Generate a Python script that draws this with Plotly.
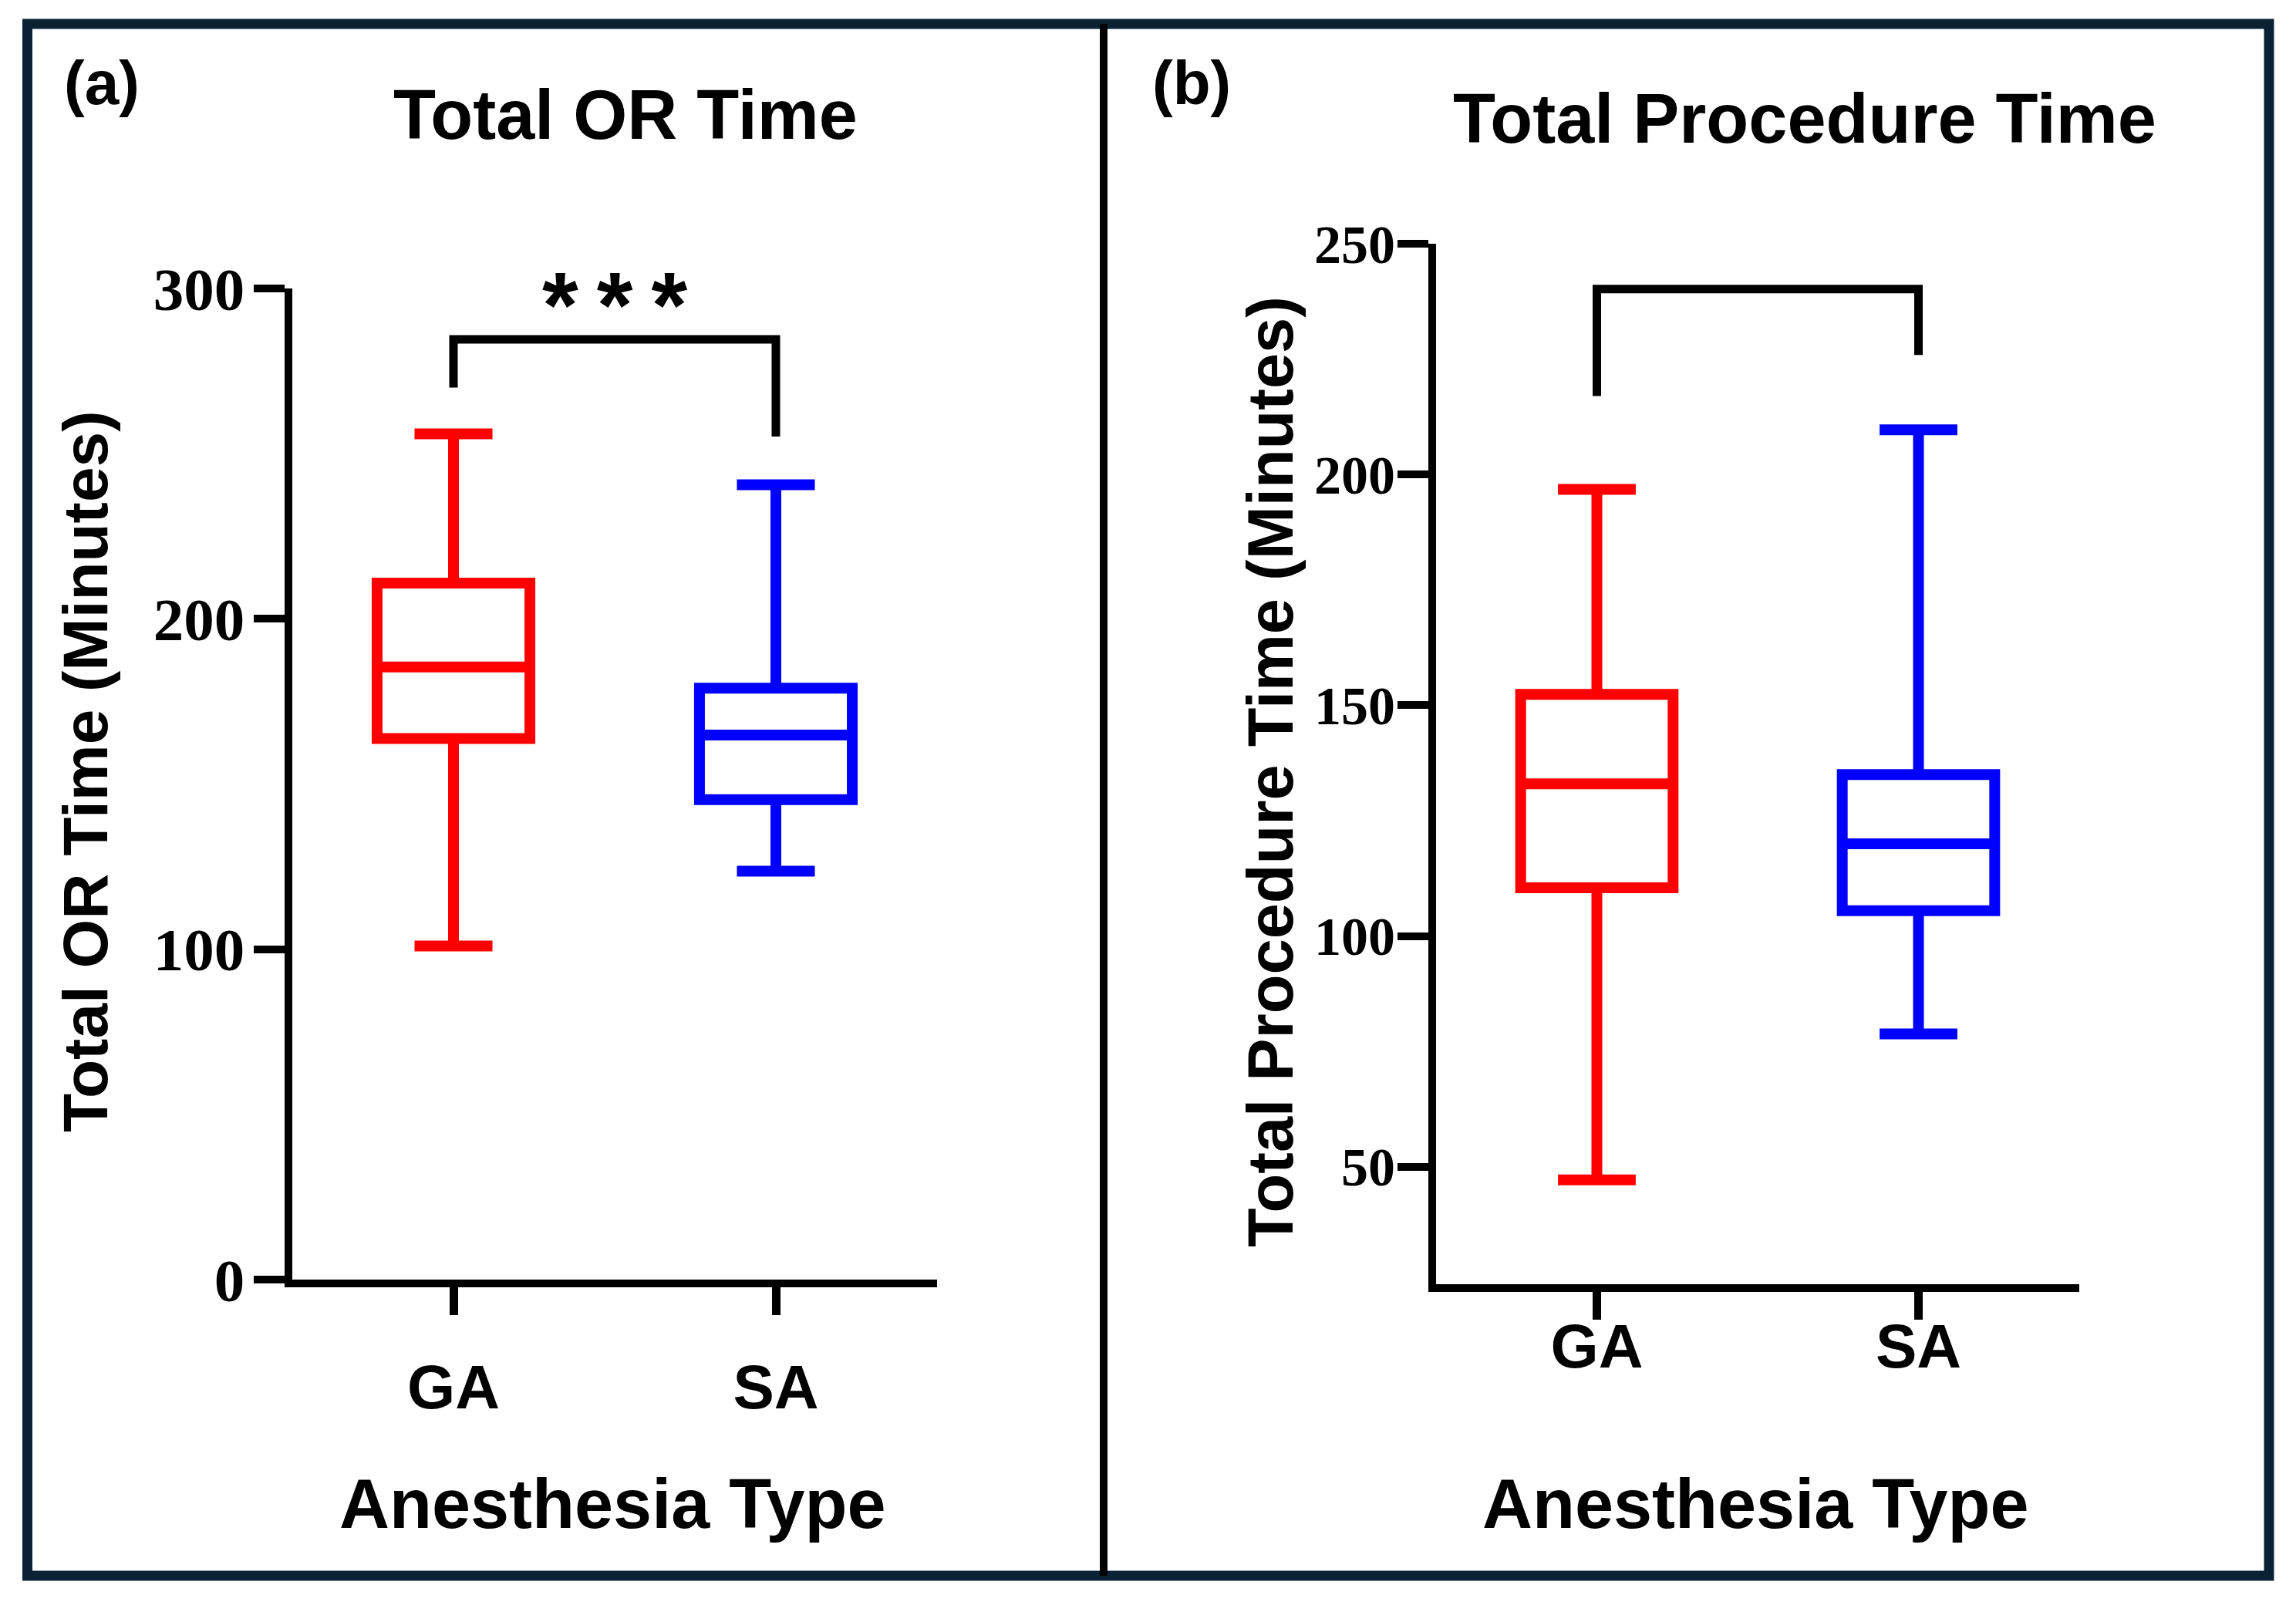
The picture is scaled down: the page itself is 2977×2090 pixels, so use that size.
import plotly.graph_objects as go

W, H = 2977, 2090

# ---------------- data ----------------
categories = ["GA", "SA"]

# Panel (a): Total OR Time (minutes)
or_lower = [101, 123.6]
or_q1 = [163.8, 145.3]
or_median = [185.4, 164.8]
or_q3 = [210.8, 179.0]
or_upper = [256, 240.6]

# Panel (b): Total Procedure Time (minutes)
pr_lower = [47.2, 78.8]
pr_q1 = [110.5, 105.5]
pr_median = [133.0, 120.0]
pr_q3 = [152.4, 135.0]
pr_upper = [196.8, 209.7]

# significance brackets (y values: left leg end, bar, right leg end)
or_bracket = [270, 284.6, 284.6, 255.2]
pr_bracket = [217, 240.2, 240.2, 225.9]
or_sig_label = "*\u2009*\u2009*"
or_sig_y = 299

or_yticks = [0, 100, 200, 300]
pr_yticks = [50, 100, 150, 200, 250]

colors = ["#FF0000", "#0000FF"]

# ---------------- helpers (layout only) ----------------
OFF = 8  # page body margin

def px(x):
    return (x - OFF) / W

def py(y):
    return 1 - (y - OFF) / H

SANS = "Liberation Sans, Arial, sans-serif"
SERIF = "Liberation Serif, Times New Roman, serif"

fig = go.Figure()

def add_boxes(xaxis, yaxis, lo, q1, med, q3, hi):
    for i, cat in enumerate(categories):
        fig.add_trace(go.Box(
            x=[cat], q1=[q1[i]], median=[med[i]], q3=[q3[i]],
            lowerfence=[lo[i]], upperfence=[hi[i]],
            width=0.474, whiskerwidth=0.51,
            line=dict(color=colors[i], width=14),
            fillcolor="rgba(0,0,0,0)", boxpoints=False,
            xaxis=xaxis, yaxis=yaxis, showlegend=False, hoverinfo="skip",
        ))

add_boxes("x", "y", or_lower, or_q1, or_median, or_q3, or_upper)
add_boxes("x2", "y2", pr_lower, pr_q1, pr_median, pr_q3, pr_upper)

fig.add_trace(go.Scatter(x=[categories[0], categories[0], categories[1], categories[1]],
                         y=or_bracket, mode="lines", line=dict(color="black", width=11),
                         xaxis="x", yaxis="y", cliponaxis=False, showlegend=False, hoverinfo="skip"))
fig.add_trace(go.Scatter(x=[categories[0], categories[0], categories[1], categories[1]],
                         y=pr_bracket, mode="lines", line=dict(color="black", width=11),
                         xaxis="x2", yaxis="y2", cliponaxis=False, showlegend=False, hoverinfo="skip"))

xcommon = dict(type="category", categoryorder="array", categoryarray=categories,
               range=[-0.5, 1.5], showline=True, linewidth=10, linecolor="black",
               ticks="outside", ticklen=36, tickwidth=11, tickcolor="black",
               showgrid=False, zeroline=False, automargin=False,
               tickfont=dict(family=SANS, size=80, color="black", weight="bold"))
ycommon = dict(showline=True, linewidth=10, linecolor="black",
               ticks="outside", ticklen=40, tickwidth=10, tickcolor="black",
               showgrid=False, zeroline=False, automargin=False)

fig.update_layout(
    width=W, height=H, autosize=False,
    margin=dict(l=0, r=0, t=0, b=0, pad=0, autoexpand=False),
    paper_bgcolor="white", plot_bgcolor="white", showlegend=False,
    xaxis=dict(domain=[px(379), px(1215)], anchor="y", ticklabelstandoff=25, **xcommon),
    yaxis=dict(domain=[py(1659), py(374)], anchor="x", range=[0, 300],
               tickvals=or_yticks, ticklabelstandoff=-4,
               tickfont=dict(family=SERIF, size=79, color="black", weight="bold"), **ycommon),
    xaxis2=dict(domain=[px(1862), px(2696)], anchor="y2", ticklabelstandoff=-34, **xcommon),
    yaxis2=dict(domain=[py(1665), py(316)], anchor="x2", range=[24.6, 250],
                tickvals=pr_yticks, ticklabelstandoff=-11,
                tickfont=dict(family=SERIF, size=70, color="black", weight="bold"), **ycommon),
)

# frame and divider
fig.add_shape(type="rect", xref="paper", yref="paper",
              x0=px(35.5), x1=px(2942), y0=py(2043), y1=py(31),
              line=dict(color="#0a2233", width=13), layer="above")
fig.add_shape(type="line", xref="paper", yref="paper",
              x0=px(1431), x1=px(1431), y0=py(2043), y1=py(31),
              line=dict(color="black", width=10), layer="above")

def ann(text, x, y, size, family=SANS, angle=0, xanchor="center", yanchor="middle", **kw):
    fig.add_annotation(text=text, x=x, y=y, xref="paper", yref="paper", showarrow=False,
                       xanchor=xanchor, yanchor=yanchor, textangle=angle,
                       font=dict(family=family, size=size, color="black", weight="bold"), **kw)

ann("(a)", px(81), py(107), 80, xanchor="left")
ann("(b)", px(1492), py(107), 80, xanchor="left")
ann("Total OR Time", px(811), py(149), 90)
ann("Total Procedure Time", px(2340), py(154), 90)
ann("Anesthesia Type", px(794), py(1950), 90)
ann("Anesthesia Type", px(2276), py(1950), 90)
ann("Total OR Time (Minutes)", px(110), py(1001), 82, angle=-90)
ann("Total Procedure Time (Minutes)", px(1647), py(1001), 83, angle=-90)

fig.add_annotation(text=or_sig_label, x=0.5, y=or_sig_y, xref="x", yref="y",
                   showarrow=False, xanchor="center", yanchor="middle", yshift=-17,
                   font=dict(family=SANS, size=120, color="black", weight="bold"))

fig.write_html("out.html")
